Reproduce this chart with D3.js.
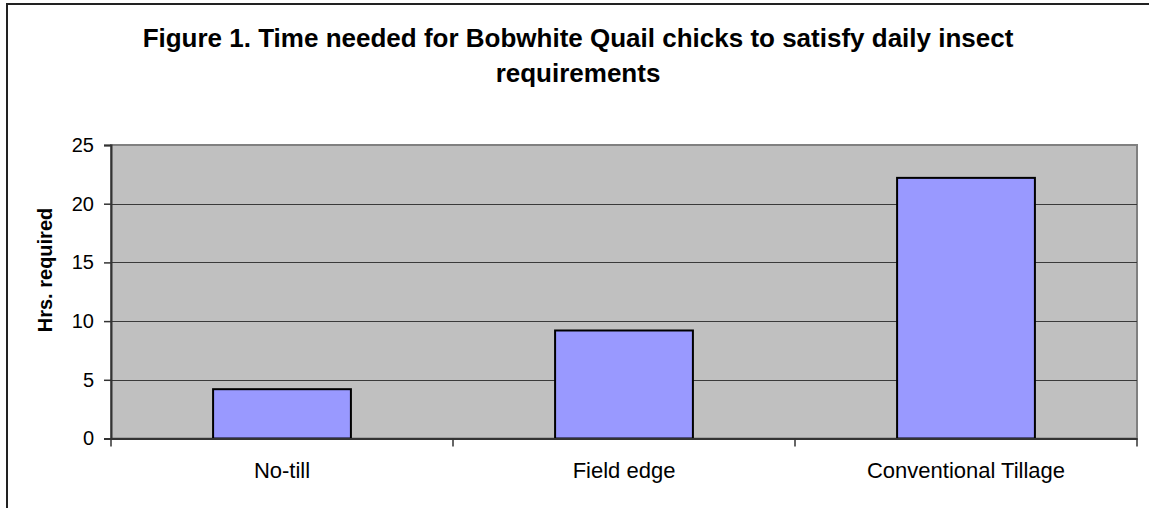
<!DOCTYPE html>
<html>
<head>
<meta charset="utf-8">
<script src="https://cdn.jsdelivr.net/npm/d3@7"></script>
<style>
  html, body { margin: 0; padding: 0; background: #fff; }
  svg { display: block; }
  text { font-family: "Liberation Sans", Arial, sans-serif; fill: #000; }
</style>
</head>
<body>
<svg id="chart" width="1149" height="508"></svg>
<script>
// Hours a chick needs to forage for its daily insect intake, by habitat
const categories = ["No-till", "Field edge", "Conventional Tillage"];
const hours = [4.2, 9.2, 22.2];
const yTicks = [0, 5, 10, 15, 20, 25];
const titleLines = [
  "Figure 1. Time needed for Bobwhite Quail chicks to satisfy daily insect",
  "requirements"
];
const yLabel = "Hrs. required";

const svg = d3.select("#chart");
const plot = { left: 111, top: 145, right: 1137, bottom: 438.5 };

// Chart frame
svg.append("rect")
  .attr("x", 7).attr("y", 4)
  .attr("width", 1160).attr("height", 520)
  .attr("fill", "#fff").attr("stroke", "#222").attr("stroke-width", 2);

const x = d3.scaleBand().domain(categories).range([plot.left, plot.right]).padding(0);
const y = d3.scaleLinear().domain([0, 25]).range([plot.bottom, plot.top]);

// Plot area background
svg.append("rect")
  .attr("x", plot.left).attr("y", plot.top)
  .attr("width", plot.right - plot.left).attr("height", plot.bottom - plot.top)
  .attr("fill", "#c0c0c0").attr("stroke", "#808080").attr("stroke-width", 2);

// Horizontal gridlines
svg.append("g").selectAll("line")
  .data(yTicks.filter(t => t > 0 && t < 25))
  .join("line")
  .attr("x1", plot.left).attr("x2", plot.right)
  .attr("y1", d => Math.round(y(d)) + 0.5).attr("y2", d => Math.round(y(d)) + 0.5)
  .attr("stroke", "#3a3a3a").attr("stroke-width", 1);

// Bars
const barRatio = 0.403;
svg.append("g").selectAll("rect")
  .data(categories)
  .join("rect")
  .attr("x", d => x(d) + x.bandwidth() * (1 - barRatio) / 2)
  .attr("width", x.bandwidth() * barRatio)
  .attr("y", (d, i) => y(hours[i]))
  .attr("height", (d, i) => y(0) - y(hours[i]))
  .attr("fill", "#9999ff").attr("stroke", "#000").attr("stroke-width", 2);

// Y axis
const yAxis = d3.axisLeft(y).tickValues(yTicks).tickSize(7).tickPadding(10);
const gy = svg.append("g").attr("transform", `translate(${plot.left},0)`).call(yAxis);
gy.select(".domain").attr("stroke", "#333").attr("stroke-width", 2);
gy.selectAll(".tick line").attr("stroke", "#333").attr("stroke-width", 1.5);
gy.selectAll(".tick text").style("font-size", "20px").attr("fill", "#000")
  .attr("font-family", "Liberation Sans, Arial, sans-serif");

// X axis: labels centred in each band, ticks at band boundaries
const xAxis = d3.axisBottom(x).tickSize(0).tickPadding(24);
const gx = svg.append("g").attr("transform", `translate(0,${plot.bottom})`).call(xAxis);
gx.select(".domain").attr("stroke", "#333").attr("stroke-width", 2);
gx.selectAll(".tick text").style("font-size", "22px").attr("fill", "#000")
  .attr("font-family", "Liberation Sans, Arial, sans-serif");
const bounds = categories.map(c => x(c)).concat([x(categories[categories.length - 1]) + x.bandwidth()]);
gx.append("g").selectAll("line")
  .data(bounds)
  .join("line")
  .attr("x1", d => d).attr("x2", d => d)
  .attr("y1", 0).attr("y2", 8)
  .attr("stroke", "#333").attr("stroke-width", 1.5);

// Y axis title
svg.append("text")
  .attr("transform", "translate(52,270) rotate(-90)")
  .attr("text-anchor", "middle")
  .style("font-size", "20px").style("font-weight", "bold")
  .text(yLabel);

// Chart title
svg.append("g").selectAll("text")
  .data(titleLines)
  .join("text")
  .attr("x", 578)
  .attr("y", (d, i) => 47 + i * 35)
  .attr("text-anchor", "middle")
  .style("font-size", "26px").style("font-weight", "bold")
  .text(d => d);
</script>
</body>
</html>
